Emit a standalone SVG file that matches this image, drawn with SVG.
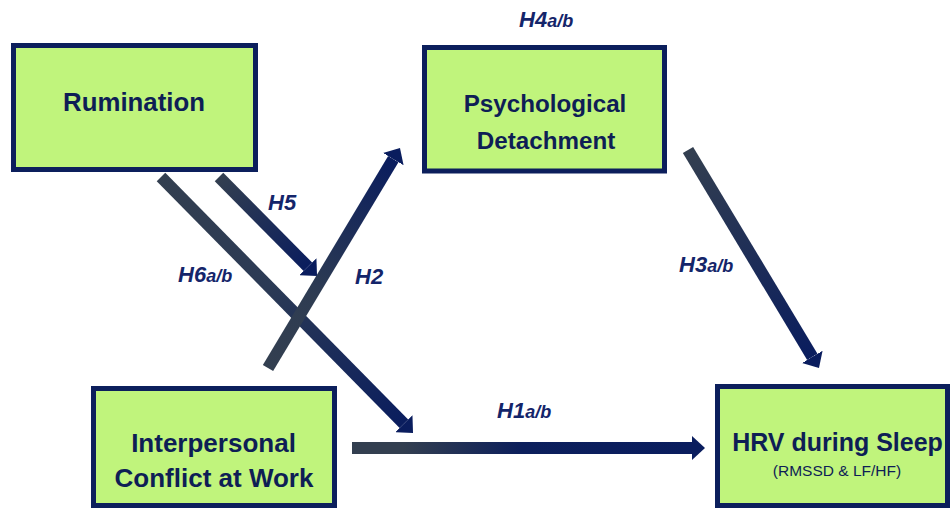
<svg xmlns="http://www.w3.org/2000/svg" width="950" height="508" viewBox="0 0 950 508">
<style>
.box{fill:#C0F47C;stroke:#0C1F5C;stroke-width:5}
.t{font-family:"Liberation Sans",Arial,sans-serif;font-weight:bold;font-size:25px;fill:#0E1E55;text-anchor:middle}
.s{font-family:"Liberation Sans",Arial,sans-serif;font-size:15.5px;fill:#0E1E55;text-anchor:middle}
.lb{font-family:"Liberation Sans",Arial,sans-serif;font-weight:bold;font-style:italic;font-size:22px;fill:#14256A}
.sub{font-size:18px}
.c{fill:none;stroke-width:12;stroke-linecap:butt;marker-end:url(#ah)}
</style>
<defs>
<marker id="ah" viewBox="0 0 13 24" refX="0" refY="12" markerWidth="13" markerHeight="24" markerUnits="userSpaceOnUse" orient="auto">
<path d="M0,0 L13,12 L0,24 Z" fill="#0A1D5E"/>
</marker>
<linearGradient id="g6" gradientUnits="userSpaceOnUse" x1="161" y1="177" x2="404" y2="424"><stop offset="0" stop-color="#333F50"/><stop offset="0.45" stop-color="#2B3A55"/><stop offset="1" stop-color="#0A1D5E"/></linearGradient>
<linearGradient id="g5" gradientUnits="userSpaceOnUse" x1="219" y1="177" x2="308" y2="267"><stop offset="0" stop-color="#333F50"/><stop offset="1" stop-color="#0A1D5E"/></linearGradient>
<linearGradient id="g2" gradientUnits="userSpaceOnUse" x1="268" y1="368" x2="393" y2="159"><stop offset="0" stop-color="#333F50"/><stop offset="0.35" stop-color="#2E3C52"/><stop offset="1" stop-color="#0A1D5E"/></linearGradient>
<linearGradient id="g3" gradientUnits="userSpaceOnUse" x1="688" y1="150" x2="812" y2="357"><stop offset="0" stop-color="#333F50"/><stop offset="1" stop-color="#0A1D5E"/></linearGradient>
<linearGradient id="g1" gradientUnits="userSpaceOnUse" x1="352" y1="448" x2="692" y2="448"><stop offset="0" stop-color="#333F50"/><stop offset="0.15" stop-color="#333F50"/><stop offset="0.5" stop-color="#0C1F5C"/><stop offset="1" stop-color="#0A1D5E"/></linearGradient>
</defs>

<g id="connectors">
<line class="c" x1="161" y1="177" x2="403.9" y2="423.7" stroke="url(#g6)"/>
<line class="c" x1="219" y1="177" x2="307.9" y2="266.8" stroke="url(#g5)"/>
<line class="c" x1="268" y1="368" x2="393.3" y2="159.1" stroke="url(#g2)"/>
<line class="c" x1="688" y1="150" x2="812.3" y2="356.9" stroke="url(#g3)"/>
<line class="c" x1="352" y1="448" x2="692" y2="448" stroke="url(#g1)"/>
</g>

<g id="labels">
<text class="lb" x="519" y="27">H4<tspan class="sub">a/b</tspan></text>
<text class="lb" x="268" y="210">H5</text>
<text class="lb" x="178" y="282">H6<tspan class="sub">a/b</tspan></text>
<text class="lb" x="355" y="284">H2</text>
<text class="lb" x="679" y="272">H3<tspan class="sub">a/b</tspan></text>
<text class="lb" x="497" y="418">H1<tspan class="sub">a/b</tspan></text>
</g>

<g id="rumination">
<rect class="box" x="13.5" y="45.5" width="242" height="124"/>
<text class="t" x="134" y="111" style="font-size:25.8px">Rumination</text>
</g>

<g id="detachment">
<rect class="box" x="424.5" y="47.5" width="240" height="123.5"/>
<text class="t" x="545" y="112" style="font-size:24.2px">Psychological</text>
<text class="t" x="546" y="148.5" style="font-size:24.2px">Detachment</text>
</g>

<g id="conflict">
<rect class="box" x="93.5" y="388.5" width="241" height="117"/>
<text class="t" x="213.5" y="451.5" style="font-size:26px">Interpersonal</text>
<text class="t" x="214" y="486.5" style="font-size:26px">Conflict at Work</text>
</g>

<g id="hrv">
<rect class="box" x="717.5" y="386.5" width="230" height="119"/>
<text class="t" x="837.5" y="451">HRV during Sleep</text>
<text class="s" x="837" y="476">(RMSSD &amp; LF/HF)</text>
</g>
</svg>
